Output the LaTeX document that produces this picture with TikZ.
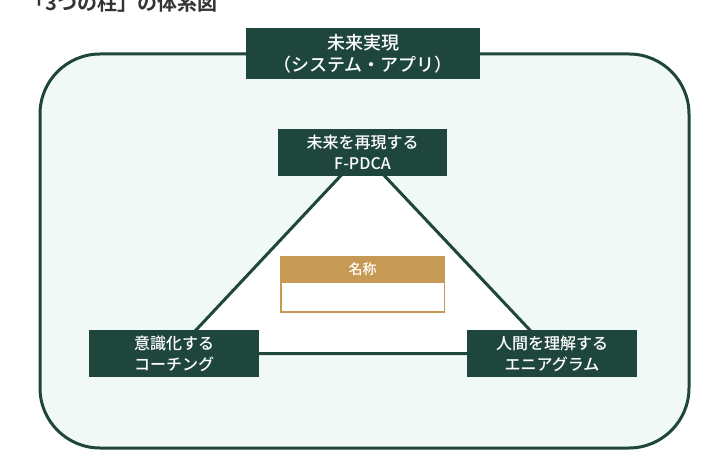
\documentclass[tikz,border=0pt]{standalone}
\usepackage{fontspec}
\setmainfont{Noto Sans CJK JP}[BoldFont={Noto Sans CJK JP Medium}]
\newfontfamily\heavyfont{Noto Sans CJK JP Bold}
\usetikzlibrary{positioning,backgrounds}
\definecolor{pine}{HTML}{1F463D}
\definecolor{mint}{HTML}{F0F9F6}
\definecolor{ochre}{HTML}{C69A55}
\definecolor{ink}{HTML}{333333}

\begin{document}
\begin{tikzpicture}[x=1pt,y=-1pt,
    pillar/.style={fill=pine,text=white,align=center,inner sep=0pt,outer sep=0pt,
      font=\bfseries\fontsize{16}{21}\selectfont,minimum width=170,minimum height=47},
    link/.style={draw=pine,line width=3pt}]
		\useasboundingbox (0,0) rectangle (724,460);
		\node[anchor=west,text=ink,font=\heavyfont\fontsize{20}{24}\selectfont] (title) at (22,3) {「3つの柱」の体系図};
		\node[pillar,minimum width=234,minimum height=51,font=\bfseries\fontsize{18}{22}\selectfont] (goal) at (363,53.5) {未来実現\\（システム・アプリ）};
		\node[pillar,minimum width=169] (fpdca) at (362.5,152.5) {未来を再現する\\F-PDCA};
		\node[pillar] (coach) at (174,353.5) {意識化する\\コーチング};
		\node[pillar] (ennea) at (552,353.5) {人間を理解する\\エニアグラム};
		\node[fill=ochre,text=white,inner sep=0pt,outer sep=0pt,minimum width=165,minimum height=26,
		  font=\bfseries\fontsize{14}{16}\selectfont] (label) at (362.5,269) {名称};
		\node[draw=ochre,line width=1.5pt,fill=white,inner sep=0pt,outer sep=0pt,
		  minimum width=163.5,minimum height=30,below=0pt of label] (field) {};
		\begin{scope}[on background layer]
		\draw[link,fill=mint,rounded corners=60pt] (40,54) rectangle (689,448);
		\path[link,fill=white,line join=miter] (fpdca.center) -- (coach.center) -- (ennea.center) -- cycle;
		\end{scope}
\end{tikzpicture}
\end{document}
